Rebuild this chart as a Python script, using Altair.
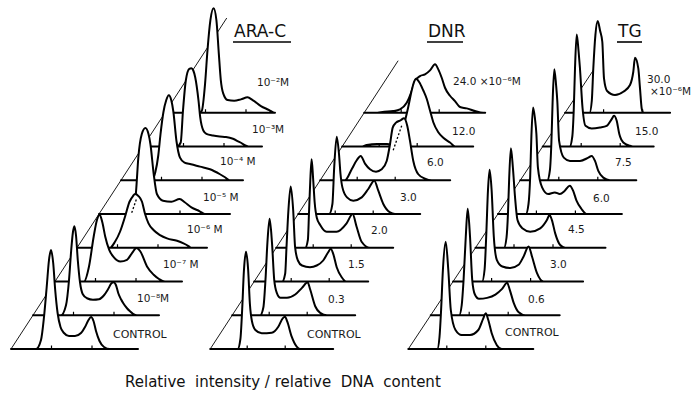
import altair as alt
import pandas as pd

W, H = 699, 394

# ---------------- DATA: each histogram as (relative DNA content, relative intensity) ----------------
# ARA-C
ARAC_LABELS = ["CONTROL", "10⁻⁸M", "10⁻⁷ M", "10⁻⁶ M", "10⁻⁵ M", "10⁻⁴ M", "10⁻³M", "10⁻²M"]
ARAC_0_X = [25, 30, 33, 35.7, 38, 40, 42.2, 44.2, 46.6, 49.5, 53, 58, 64, 70, 74, 77.5, 80, 82.5, 85, 88.5, 93, 99]
ARAC_0_Y = [0, 9, 32, 62, 89, 99, 86, 59, 36, 22, 16, 13, 13, 16, 22, 29, 32, 28, 18, 8, 2, 0]
ARAC_1_X = [28, 33, 36, 38.2, 39.8, 41.3, 43, 44.8, 47, 49.8, 54, 60, 66, 71, 75, 78.5, 80.5, 83, 85.3, 88, 90.3, 94, 97, 100, 104]
ARAC_1_Y = [0, 10, 35, 65, 82, 89, 80, 55, 33, 21, 17, 15.5, 16, 20, 26, 32, 33, 30, 22, 16, 12, 7, 4, 1.5, 0]
ARAC_2_X = [29, 34, 38.7, 42, 44.7, 47.5, 50.2, 54.2, 58.7, 65.4, 72, 77, 81.4, 85.4, 92, 98.7, 104, 110]
ARAC_2_Y = [0, 15, 45, 61.7, 66.7, 58.4, 45, 31.7, 24.4, 20, 21.7, 28.4, 33.4, 30, 15, 6.7, 2.5, 0]
ARAC_3_X = [33, 38, 43, 48, 52.5, 56, 58, 61.5, 65, 68, 71.5, 76.5, 83, 90, 100, 106.5, 111.5, 114]
ARAC_3_Y = [0, 6, 16, 31, 46, 51.7, 53.7, 51.7, 46, 34, 24.4, 17.7, 12.7, 9.4, 7, 4.4, 1.7, 0]
ARAC_4_X = [33, 35.8, 37.3, 39.3, 42.8, 46.4, 49.5, 51.4, 54.7, 57.9, 64, 72.4, 80.7, 85.7, 92.4, 100.7, 105.7]
ARAC_4_Y = [0, 8, 26, 56, 80, 86, 80, 70, 40, 20, 13.3, 12.3, 15, 11.7, 6.7, 2.7, 0]
ARAC_5_X = [31, 34.3, 37.3, 39.5, 42.4, 45.2, 47.8, 50.3, 52.3, 55.5, 59, 63.5, 70, 79, 89, 99, 104, 108.5]
ARAC_5_Y = [0, 8, 25, 46, 68, 80, 85, 80, 69, 39, 22.6, 17.6, 16, 13.6, 11, 6, 3, 0]
ARAC_6_X = [34, 37.7, 40, 42.8, 46.3, 48.4, 50.3, 52.2, 55.5, 57.2, 60.3, 63.4, 70, 76.7, 83, 90, 96.7, 106.7]
ARAC_6_Y = [0, 4, 36, 66, 77.7, 78.3, 76, 69.3, 46, 29.3, 16, 12.7, 11, 10, 9.5, 7.7, 4.3, 0]
ARAC_7_X = [34, 36.8, 40.1, 42.5, 45.4, 48.6, 51.4, 53.8, 55.8, 58.2, 62.6, 69.2, 75.9, 82.6, 87.6, 95.9, 104.2, 109.2]
ARAC_7_Y = [0, 2, 29.4, 62.7, 92.7, 104.4, 92.7, 59.4, 32.7, 19.4, 12.7, 12, 13.4, 15.4, 12.7, 6.7, 2.7, 0]

# DNR
DNR_LABELS = ["CONTROL", "0.3", "1.5", "2.0", "3.0", "6.0", "12.0", "24.0 ×10⁻⁶M"]
DNR_0_X = [27.5, 30.2, 32, 33.7, 35.8, 37.9, 39.7, 41.7, 45.2, 51.5, 61.5, 68.1, 72.5, 74.8, 77.1, 81.5, 86.5, 89.8]
DNR_0_Y = [0, 10, 40, 78, 97.3, 80, 45, 28, 19, 15.7, 16.3, 22.3, 30.7, 32.3, 27.3, 12.3, 2.3, 0]
DNR_1_X = [28, 31.2, 33.3, 35.2, 37.4, 39.8, 42, 44.6, 48.3, 54.8, 63, 69.8, 75.4, 78, 83, 88, 94.8]
DNR_1_Y = [0, 8, 35.7, 72.4, 96.4, 72.4, 35.7, 22.4, 17.4, 17.4, 20.7, 27.4, 33, 25.7, 9, 2.4, 0]
DNR_2_X = [28, 31, 32.3, 34.2, 36.5, 39, 40.9, 43.7, 47.8, 55.8, 62.5, 69, 74, 76.5, 79, 82.5, 87.5, 92.5]
DNR_2_Y = [0, 8, 34.3, 71, 95, 71, 34.3, 21, 16, 14.3, 16, 21, 29.3, 32.7, 27.7, 14.3, 4.3, 0]
DNR_3_X = [29, 31.7, 32.8, 34, 35.4, 37, 38.5, 40.6, 44, 50.4, 60.4, 70.4, 76.4, 80.4, 85.4, 93.7]
DNR_3_Y = [0, 8, 35, 65, 88.4, 68, 45, 30, 22.7, 16, 16, 24.4, 33.7, 21, 6, 0]
DNR_4_X = [31, 34.2, 36, 38.5, 40.8, 42.3, 44.2, 48.8, 55.1, 63.5, 70.1, 76.1, 80.1, 85.1, 91.8, 96.8]
DNR_4_Y = [0, 10, 46.6, 77.3, 60, 40, 26.6, 16.6, 13.3, 16.6, 25, 33.3, 23.3, 10, 1.6, 0]
DNR_5_X = [24.8, 31.5, 36.5, 40.5, 44.8, 49.8, 55.8, 61.5, 66.5, 69.8, 72.5, 75.8, 80.5, 83.8, 87.1, 89.8, 93.1, 98.1, 104.8, 111.5]
DNR_5_Y = [0, 11, 20, 24.3, 16.6, 11, 8.6, 11, 19.3, 36, 52.6, 57.6, 60, 62, 54.3, 39.3, 19.3, 6, 1.6, 0]
DNR_6_X = [20, 24.5, 35, 45, 48.3, 54.5, 61, 66, 69.5, 71.8, 73.8, 77.1, 81.1, 84.5, 87.8, 91.1, 96.1, 101.1, 107.8, 113]
DNR_6_Y = [0, 1.5, 2.5, 2.5, 2, 6, 19.3, 39.3, 56, 64.3, 67.7, 64.3, 56, 47.7, 36, 24.3, 14.3, 8.7, 4, 0]
DNR_7_X = [10.8, 20, 29, 35.8, 42.5, 47.5, 50.8, 55.8, 60.8, 65.8, 70.8, 74.1, 77.5, 80.8, 85.8, 90.8, 95.8, 102.5, 110.8, 119]
DNR_7_Y = [0, 1, 1.7, 3.4, 10, 21.7, 31.7, 36.7, 38.4, 42.4, 48.4, 43.4, 35, 25, 17, 11.7, 5.7, 4.4, 1.7, 0]

# TG
TG_LABELS = ["CONTROL", "0.6", "3.0", "4.5", "6.0", "7.5", "15.0", "30.0"]
TG_UNIT = "×10⁻⁶M"
TG_0_X = [29, 31.2, 32.8, 34.6, 37.4, 40, 42.5, 47.2, 53.4, 61.7, 70, 75, 77.4, 80, 83.4, 88.4, 93.4]
TG_0_Y = [0, 12, 39, 79, 107.3, 79, 39, 19, 14, 14, 19, 30.7, 35.7, 29, 15.7, 4, 0]
TG_1_X = [28.5, 31, 32.9, 35.1, 37, 39.3, 41.5, 44.2, 48.3, 56.4, 64.7, 71.4, 76.4, 79, 83, 88, 94.7]
TG_1_Y = [0, 10, 35.7, 79, 106.4, 79, 35.7, 20.7, 16.4, 17.4, 20.7, 26.4, 32.4, 25.7, 12.4, 3, 0]
TG_2_X = [29, 31.5, 33.1, 34.9, 36.5, 38.5, 40.7, 43.7, 49.2, 57.2, 65.5, 70.5, 75.5, 78.9, 83.9, 90.5]
TG_2_Y = [0, 12, 45, 91.7, 111.7, 91.7, 45, 21.7, 15, 13.4, 16.7, 25, 35, 25, 8.4, 0]
TG_3_X = [28.5, 31, 32.5, 33.7, 35.4, 37.4, 39.5, 42, 46.8, 54.7, 64.7, 71.4, 74, 76.4, 79.7, 84.7, 89.7]
TG_3_Y = [0, 10, 35, 70, 99.4, 80, 51, 27.7, 19.4, 16, 19.4, 27.7, 32.7, 27.7, 14.4, 2.7, 0]
TG_4_X = [28, 30.6, 32.3, 33.5, 35.2, 37.1, 38.5, 40, 44.2, 50.2, 56.9, 61.9, 66.9, 71.9, 75.2, 78.6, 83.6, 88.6]
TG_4_Y = [0, 10, 38, 78, 106.6, 95, 80, 46.6, 26.6, 20, 21.6, 20, 23.3, 28.3, 23.3, 13.3, 5, 0]
TG_5_X = [27, 29.6, 31.1, 32.3, 34, 35.8, 37, 38.8, 43.5, 49.7, 59.7, 68, 71.4, 74.7, 78, 83, 89.7]
TG_5_Y = [0, 10, 38, 78, 111, 95, 79.3, 39.3, 22.6, 19.3, 19.3, 22.6, 24.3, 19.3, 9.3, 2.6, 0]
TG_6_X = [27, 29.6, 31.1, 32.3, 34, 35.9, 37.2, 39.8, 42.8, 49, 57.3, 64, 69, 71.3, 74, 76.6, 80.6, 87.3, 90]
TG_6_Y = [0, 10, 38, 78, 112, 95, 79, 39, 20.7, 18, 19, 20.7, 27.4, 30.7, 25.7, 12.4, 4, 0.7, 0]
TG_7_X = [24.5, 26.7, 28.2, 30.3, 32.6, 35, 37.2, 38.9, 42, 49.9, 58.2, 64.9, 68.2, 69.9, 73.2, 74.9, 76.6, 78.2]
TG_7_Y = [0, 12, 44.3, 77.7, 91.7, 82, 71, 34.3, 21.7, 17.7, 21, 27.7, 41, 55, 44.3, 24.3, 4.3, 0]

AXIS_TITLE = "Relative\u00a0 intensity / relative\u00a0 DNA\u00a0 content"

# ---------------- LAYOUT (positions / sizes / styles) ----------------
Y0 = 349.0      # baseline of the CONTROL row
DY = 33.75      # vertical step between stacked histograms
PANELS = [
    dict(title="ARA-C", title_x=234, ul=(233, 291), x0=11.0, dx=22.0, diag_top=18,
         curves=[(ARAC_0_X, ARAC_0_Y), (ARAC_1_X, ARAC_1_Y), (ARAC_2_X, ARAC_2_Y), (ARAC_3_X, ARAC_3_Y),
                 (ARAC_4_X, ARAC_4_Y), (ARAC_5_X, ARAC_5_Y), (ARAC_6_X, ARAC_6_Y), (ARAC_7_X, ARAC_7_Y)],
         ends=[127, 126, 127, 130, 131, 122, 119, 110], ticks=[40.5, 81],
         labels=ARAC_LABELS,
         label_xy=[(113, 335), (137, 299), (163, 265), (187, 230), (203, 198), (220, 162), (252, 130), (257, 83)],
         dashed={3: (54.7, 35, 59.7, 49.4)}),
    dict(title="DNR", title_x=428, ul=(427, 463), x0=210.2, dx=22.0, diag_top=60.7,
         curves=[(DNR_0_X, DNR_0_Y), (DNR_1_X, DNR_1_Y), (DNR_2_X, DNR_2_Y), (DNR_3_X, DNR_3_Y),
                 (DNR_4_X, DNR_4_Y), (DNR_5_X, DNR_5_Y), (DNR_6_X, DNR_6_Y), (DNR_7_X, DNR_7_Y)],
         ends=[123, 123, 114, 117, 122, 130, 131, 121], ticks=[37, 75],
         labels=DNR_LABELS,
         label_xy=[(307, 335), (328, 300), (348, 265), (371, 231), (400, 198), (427, 163), (452, 132), (453, 82)],
         dashed={5: (73, 30, 82, 56)}),
    dict(title="TG", title_x=618, ul=(617, 642), x0=408.3, dx=22.4, diag_top=68.3,
         curves=[(TG_0_X, TG_0_Y), (TG_1_X, TG_1_Y), (TG_2_X, TG_2_Y), (TG_3_X, TG_3_Y),
                 (TG_4_X, TG_4_Y), (TG_5_X, TG_5_Y), (TG_6_X, TG_6_Y), (TG_7_X, TG_7_Y)],
         ends=[125, 129, 130, 130, 124, 116, 111, 105], ticks=[38.5, 77.5],
         labels=TG_LABELS,
         label_xy=[(505, 333), (528, 300), (550, 265), (568, 230), (593, 199), (615, 163), (635, 132), (647, 80)],
         dashed={}),
]
TG_UNIT_XY = (650, 92)
TITLE_Y = 32
UL_Y = 42
AXIS_TITLE_XY = (125, 382)
FONT = "DejaVu Sans"
CURVE_W = 2.0

XS = alt.Scale(domain=[0, W], nice=False, zero=False)
YS = alt.Scale(domain=[H, 0], nice=False, zero=False)


def X(f):
    return alt.X(f, type="quantitative", scale=XS, axis=None)


def Y(f):
    return alt.Y(f, type="quantitative", scale=YS, axis=None)


layers = []

# diagonal origin lines
for p in PANELS:
    slope = p["dx"] / DY
    d = pd.DataFrame({"x": [p["x0"]], "y": [Y0],
                      "x2": [p["x0"] + slope * (Y0 - p["diag_top"])], "y2": [p["diag_top"]]})
    layers.append(alt.Chart(d).mark_rule(stroke="black", strokeWidth=0.9).encode(
        x=X("x"), y=Y("y"), x2="x2:Q", y2="y2:Q"))

# histograms, drawn from back (top row) to front (CONTROL)
for p in PANELS:
    for i in reversed(range(len(p["curves"]))):
        xs, hs = p["curves"][i]
        ox = p["x0"] + p["dx"] * i
        by = Y0 - DY * i
        end = p["ends"][i]
        df = pd.DataFrame({
            "px": [ox] + [ox + v for v in xs] + [ox + end],
            "py": [by] + [by - h for h in hs] + [by],
        })
        df["base"] = by
        layers.append(alt.Chart(df).mark_area(
            fill="white", stroke="black", strokeWidth=CURVE_W, interpolate="monotone",
            strokeJoin="round").encode(x=X("px"), y=Y("py"), y2="base:Q"))
        tdf = pd.DataFrame({"tx": [ox + t for t in p["ticks"]], "ty": by, "ty2": by - 3.5})
        layers.append(alt.Chart(tdf).mark_rule(stroke="black", strokeWidth=1.2).encode(
            x=X("tx"), y=Y("ty"), y2="ty2:Q"))
        if i in p["dashed"]:
            a, b, c, e = p["dashed"][i]
            ddf = pd.DataFrame({"x": [ox + a], "y": [by - b], "x2": [ox + c], "y2": [by - e]})
            layers.append(alt.Chart(ddf).mark_rule(stroke="black", strokeWidth=1.3,
                                                   strokeDash=[2, 2]).encode(
                x=X("x"), y=Y("y"), x2="x2:Q", y2="y2:Q"))

# row labels
lab = []
for p in PANELS:
    for t, (lx, ly) in zip(p["labels"], p["label_xy"]):
        lab.append({"tx": lx, "ty": ly, "t": t, "ctrl": t == "CONTROL"})
lab.append({"tx": TG_UNIT_XY[0], "ty": TG_UNIT_XY[1], "t": TG_UNIT, "ctrl": False})
labdf = pd.DataFrame(lab)
layers.append(alt.Chart(labdf[~labdf.ctrl]).mark_text(
    align="left", baseline="middle", fontSize=10.5, font=FONT, color="#1a1a1a").encode(
    x=X("tx"), y=Y("ty"), text="t:N"))
layers.append(alt.Chart(labdf[labdf.ctrl]).mark_text(
    align="left", baseline="middle", fontSize=11, font=FONT, color="#1a1a1a").encode(
    x=X("tx"), y=Y("ty"), text="t:N"))

# panel titles with underline
tdf = pd.DataFrame([{"tx": p["title_x"], "ty": TITLE_Y, "t": p["title"]} for p in PANELS])
layers.append(alt.Chart(tdf).mark_text(
    align="left", baseline="middle", fontSize=17, font=FONT, color="#111").encode(
    x=X("tx"), y=Y("ty"), text="t:N"))
udf = pd.DataFrame([{"x": p["ul"][0], "x2": p["ul"][1], "y": UL_Y} for p in PANELS])
layers.append(alt.Chart(udf).mark_rule(stroke="black", strokeWidth=1.6).encode(
    x=X("x"), x2="x2:Q", y=Y("y")))

# bottom axis caption
adf = pd.DataFrame({"tx": [AXIS_TITLE_XY[0]], "ty": [AXIS_TITLE_XY[1]], "t": [AXIS_TITLE]})
layers.append(alt.Chart(adf).mark_text(
    align="left", baseline="middle", fontSize=15, font=FONT, color="#111").encode(
    x=X("tx"), y=Y("ty"), text="t:N"))

chart = alt.layer(*layers).properties(
    width=W, height=H, padding=0, autosize=alt.AutoSizeParams(type="none"),
    background="white").configure_view(stroke=None)

chart.save("out.html", embed_options={"renderer": "svg", "actions": False})
